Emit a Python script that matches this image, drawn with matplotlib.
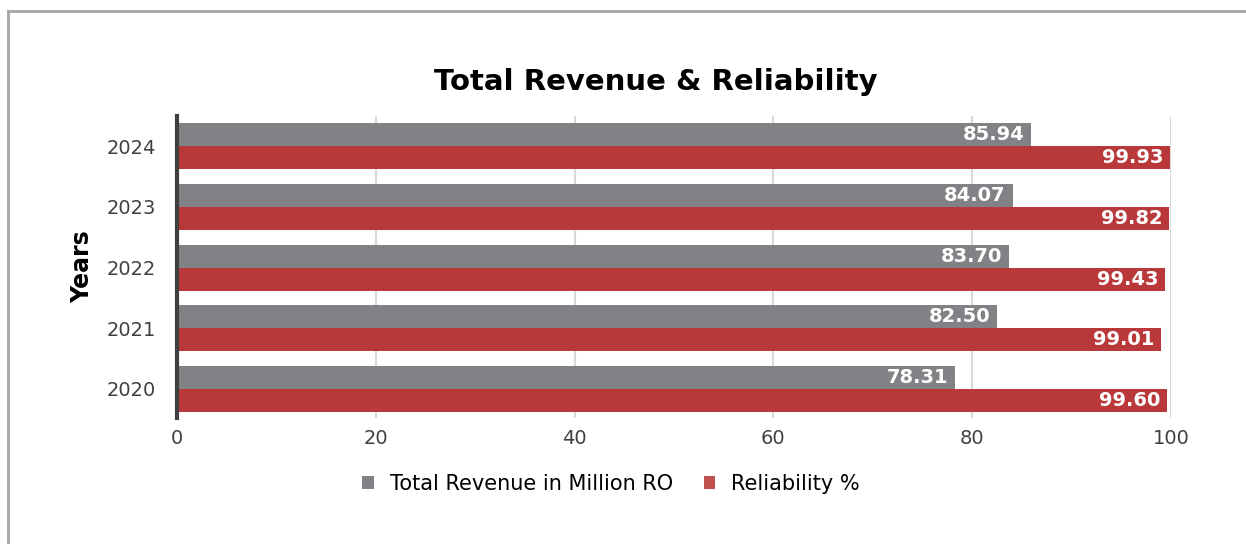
import matplotlib
matplotlib.use("Agg")
import matplotlib.pyplot as plt
from matplotlib.lines import Line2D
from matplotlib.patches import Patch
import numpy as np

years = ["2020", "2021", "2022", "2023", "2024"]
revenue = [78.31, 82.50, 83.70, 84.07, 85.94]
reliability = [99.60, 99.01, 99.43, 99.82, 99.93]
x_ticks = [0, 20, 40, 60, 80, 100]
series_names = ["Total Revenue in Million RO", "Reliability %"]

GRAY = "#818285"
RED = "#b9393a"
TEXT = "#404040"
FONT = "DejaVu Sans"

fig = plt.figure(figsize=(12.46, 5.44), dpi=100)
fig.patch.set_facecolor("white")

# outer frame (left and top edges visible)
fig.add_artist(Line2D([8 / 1246, 8 / 1246], [0, 1 - 11 / 544], transform=fig.transFigure,
                      color="#a6a6a6", lw=2))
fig.add_artist(Line2D([8 / 1246, 1], [1 - 11 / 544, 1 - 11 / 544], transform=fig.transFigure,
                      color="#a6a6a6", lw=2))

ax = fig.add_axes([177 / 1246, 1 - 418 / 544, (1171 - 177) / 1246, (418 - 116) / 544])
y = np.arange(len(years))
h = 0.38
bars_rev = ax.barh(y + h / 2, revenue, height=h, color=GRAY, zorder=3)
bars_rel = ax.barh(y - h / 2, reliability, height=h, color=RED, zorder=3)

for bars in (bars_rev, bars_rel):
    for b in bars:
        w = b.get_width()
        ax.text(w - 0.7, b.get_y() + b.get_height() / 2, f"{w:.2f}", ha="right", va="center",
                color="white", fontsize=14, fontweight="bold", family=FONT, zorder=4)

ax.set_xlim(0, 100)
ax.set_ylim(-0.48, 4.5)
ax.set_xticks(x_ticks)
ax.set_xticklabels([str(t) for t in x_ticks], fontsize=14, color=TEXT, family=FONT)
ax.set_yticks(y)
ax.set_yticklabels(years, fontsize=14, color=TEXT, family=FONT)
ax.tick_params(axis="both", length=0)
ax.tick_params(axis="x", pad=8)
ax.tick_params(axis="y", pad=15)
ax.grid(axis="x", color="#d9d9d9", lw=1.5, zorder=0)
for s in ["top", "right", "bottom"]:
    ax.spines[s].set_visible(False)
ax.spines["left"].set_color(TEXT)
ax.spines["left"].set_linewidth(3)
ax.spines["left"].set_zorder(5)

ax.set_ylabel("Years", fontsize=17, fontweight="bold", color="black", family=FONT, labelpad=9)

fig.text(656 / 1246, 1 - 82 / 544, "Total Revenue & Reliability", ha="center", va="center",
         fontsize=21, fontweight="bold", color="black", family=FONT)

handles = [Patch(facecolor=GRAY), Patch(facecolor="#c0504d")]
leg = fig.legend(handles, series_names, loc="center", bbox_to_anchor=(611 / 1246, 1 - 484 / 544),
                 ncol=2, frameon=False, prop={"family": FONT, "size": 15},
                 handlelength=0.55, handleheight=0.55, columnspacing=1.5, handletextpad=0.75)

fig.savefig("out.png", dpi=100)
